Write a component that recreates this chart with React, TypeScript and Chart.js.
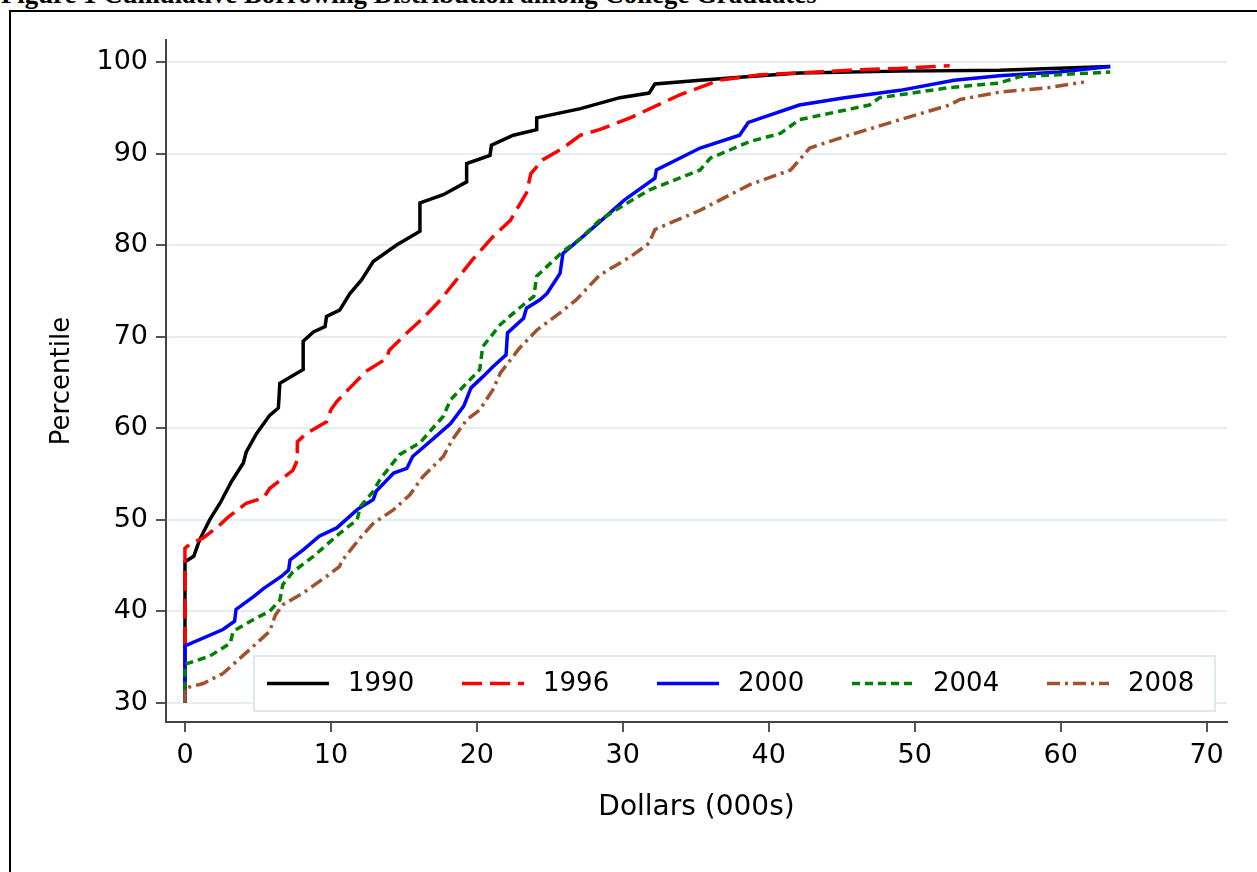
import React, { useEffect, useRef } from "react";
import { Chart, registerables } from "chart.js";

Chart.register(...registerables);

// ---- data (Dollars in 000s, percentile) ----
const x1990 = [0, 0, 0.6, 1.0, 1.7, 2.4, 3.2, 4.0, 4.2, 4.9, 5.8, 6.4, 6.5, 8.1, 8.1, 8.8, 9.6, 9.7, 10.6, 11.3, 12.1, 12.9, 14.5, 16.1, 16.1, 17.7, 19.3, 19.3, 20.9, 21.0, 22.5, 24.1, 24.1, 27.1, 29.8, 31.8, 32.2, 35.3, 38.7, 42.1, 49, 55.8, 63.4];
const y1990 = [30, 45.4, 46.0, 47.8, 50.0, 51.8, 54.2, 56.2, 57.4, 59.4, 61.4, 62.2, 64.9, 66.4, 69.5, 70.5, 71.1, 72.2, 72.9, 74.7, 76.2, 78.2, 80.0, 81.5, 84.6, 85.5, 86.9, 88.9, 89.8, 90.9, 92.0, 92.6, 93.9, 94.9, 96.1, 96.6, 97.6, 98.0, 98.4, 98.8, 99.0, 99.1, 99.5];

const x1996 = [0, 0, 0.4, 1.25, 2.3, 2.9, 4.2, 5.4, 5.8, 7.4, 7.7, 7.7, 8.3, 9.7, 10.0, 10.4, 11.3, 12.4, 13.8, 14.0, 15.2, 16.3, 17.5, 19.7, 21.1, 22.3, 23.4, 23.7, 24.5, 25.9, 27.1, 28.4, 30.5, 33.9, 36.6, 39.4, 42.1, 45.5, 49, 52.4];
const y1996 = [30, 46.9, 47.4, 48.0, 49.3, 50.2, 51.8, 52.4, 53.4, 55.4, 56.5, 58.5, 59.4, 60.7, 62.0, 62.9, 64.4, 66.2, 67.6, 68.5, 70.4, 72.0, 74.0, 78.4, 80.9, 82.7, 85.7, 87.8, 89.3, 90.6, 92.0, 92.6, 93.9, 96.4, 98.0, 98.6, 98.8, 99.1, 99.3, 99.6];

const x2000 = [0, 0, 2.6, 3.4, 3.5, 4.7, 5.4, 6.6, 7.1, 7.2, 8.1, 9.2, 10.4, 11.8, 12.9, 13.1, 14.3, 15.2, 15.6, 17.2, 18.2, 19.1, 19.6, 20.4, 21.1, 22.0, 22.1, 23.2, 23.4, 24.3, 24.8, 25.7, 25.9, 27.1, 28.4, 30.1, 32.2, 32.3, 35.3, 38.0, 38.6, 42.1, 45.2, 49, 52.7, 55.8, 59.9, 63.4];
const y2000 = [30, 36.2, 38.0, 38.9, 40.2, 41.6, 42.5, 43.8, 44.5, 45.6, 46.7, 48.2, 49.1, 51.1, 52.2, 53.1, 55.1, 55.6, 56.9, 59.1, 60.5, 62.4, 64.4, 65.6, 66.7, 68.0, 70.4, 72.0, 73.1, 74.0, 74.7, 76.9, 79.1, 80.7, 82.5, 84.9, 87.3, 88.2, 90.6, 92.0, 93.4, 95.3, 96.1, 96.9, 98.0, 98.5, 98.9, 99.5];

const x2004 = [0, 0, 1.7, 3.1, 3.3, 4.7, 5.8, 6.5, 6.7, 7.4, 8.8, 10.6, 11.8, 12.0, 12.9, 13.4, 14.7, 16.1, 17.7, 18.2, 20.2, 20.4, 21.6, 22.9, 23.9, 24.1, 25.9, 27.1, 28.4, 30.1, 31.8, 35.3, 36.0, 38.7, 40.8, 42.1, 46.9, 47.6, 52.4, 55.8, 57.2, 63.4];
const y2004 = [30, 34.2, 35.1, 36.5, 37.8, 39.1, 40.0, 41.2, 42.9, 44.3, 46.0, 48.5, 50.0, 51.4, 53.1, 54.5, 57.1, 58.4, 61.3, 63.1, 66.4, 68.9, 71.3, 73.1, 74.4, 76.6, 79.3, 80.7, 82.7, 84.4, 86.0, 88.2, 89.5, 91.3, 92.2, 93.7, 95.3, 96.1, 97.2, 97.7, 98.4, 98.9];

const x2008 = [0, 0, 1.25, 2.6, 3.8, 4.9, 5.8, 6.2, 6.7, 8.1, 9.7, 10.6, 10.7, 12.0, 12.9, 14.3, 15.4, 16.3, 17.7, 18.3, 19.3, 20.2, 21.1, 21.6, 22.9, 24.1, 25.7, 26.8, 28.4, 30.5, 31.8, 32.2, 35.3, 38.7, 41.5, 42.1, 42.8, 45.5, 49, 52.4, 53.1, 55.8, 59.2, 61.6];
const y2008 = [30, 31.6, 32.1, 33.2, 34.9, 36.5, 37.8, 39.6, 40.7, 42.0, 43.8, 44.9, 45.4, 48.0, 49.6, 51.1, 52.7, 54.7, 56.9, 58.7, 60.9, 62.0, 64.2, 66.0, 68.7, 70.7, 72.6, 74.0, 76.7, 78.7, 80.2, 81.7, 83.8, 86.6, 88.2, 89.3, 90.6, 92.0, 93.7, 95.3, 95.9, 96.7, 97.2, 97.8];

const seriesLabels = ["1990", "1996", "2000", "2004", "2008"];
const xTicks = [0, 10, 20, 30, 40, 50, 60, 70];
const yTicks = [30, 40, 50, 60, 70, 80, 90, 100];

const TITLE = "Figure 1 Cumulative Borrowing Distribution among College Graduates";
const SANS = '"DejaVu Sans", sans-serif';

const pts = (xs: number[], ys: number[]) => xs.map((x, i) => ({ x, y: ys[i] }));

const boxLegend = {
  id: "boxLegend",
  afterDatasetsDraw(chart: any) {
    const { ctx, chartArea } = chart;
    const left = chartArea.left + 88;
    const right = chartArea.right - 12;
    const top = chartArea.bottom - 66;
    const bottom = chartArea.bottom - 11;
    ctx.save();
    ctx.fillStyle = "#ffffff";
    ctx.fillRect(left, top, right - left, bottom - top);
    ctx.strokeStyle = "#dfe8ec";
    ctx.lineWidth = 2;
    ctx.strokeRect(left, top, right - left, bottom - top);
    const cy = (top + bottom) / 2;
    chart.data.datasets.forEach((ds: any, i: number) => {
      const sx = left + 13 + i * 195;
      ctx.beginPath();
      ctx.setLineDash(ds.borderDash || []);
      ctx.strokeStyle = ds.borderColor;
      ctx.lineWidth = 3.5;
      ctx.moveTo(sx, cy);
      ctx.lineTo(sx + 62, cy);
      ctx.stroke();
      ctx.setLineDash([]);
      ctx.fillStyle = "#000";
      ctx.font = `26px ${SANS}`;
      ctx.textBaseline = "middle";
      ctx.textAlign = "left";
      ctx.fillText(ds.label, sx + 81, cy + 1);
    });
    ctx.restore();
  },
};

export default function App() {
  const ref = useRef<HTMLCanvasElement>(null);

  useEffect(() => {
    if (!ref.current) return;
    const mk = (i: number, xs: number[], ys: number[], color: string, dash: number[]) => ({
      label: seriesLabels[i],
      data: pts(xs, ys),
      borderColor: color,
      backgroundColor: color,
      borderWidth: 3.5,
      borderDash: dash,
      pointRadius: 0,
      tension: 0,
      fill: false,
      order: 5 - i,
    });
    const chart = new Chart(ref.current, {
      type: "line",
      data: {
        datasets: [
          mk(0, x1990, y1990, "#000000", []),
          mk(1, x1996, y1996, "#ff0000", [20, 8]),
          mk(2, x2000, y2000, "#0000ff", []),
          mk(3, x2004, y2004, "#008000", [8, 5]),
          mk(4, x2008, y2008, "#a0522d", [13, 5, 3, 5]),
        ],
      },
      options: {
        animation: false,
        responsive: false,
        devicePixelRatio: 1,
        layout: { padding: { left: 43, right: 30, top: 40, bottom: 43 } },
        plugins: {
          legend: { display: false },
          tooltip: { enabled: false },
        },
        scales: {
          x: {
            type: "linear",
            min: -1.3,
            max: 71.4,
            afterBuildTicks: (s: any) => {
              s.ticks = xTicks.map((v) => ({ value: v }));
            },
            afterFit: (s: any) => {
              s.height = 107;
            },
            grid: { drawOnChartArea: false, tickLength: 10, tickColor: "#555", lineWidth: 2 },
            border: { display: true, color: "#444", width: 2 },
            ticks: { color: "#000", font: { family: SANS, size: 27 }, padding: 8, maxRotation: 0 },
            title: { display: true, text: "Dollars (000s)", color: "#000", font: { family: SANS, size: 28 } },
          },
          y: {
            type: "linear",
            min: 27.9,
            max: 102.4,
            afterBuildTicks: (s: any) => {
              s.ticks = yTicks.map((v) => ({ value: v }));
            },
            afterFit: (s: any) => {
              s.width = 123;
            },
            grid: { color: "#e4edf0", lineWidth: 2, tickLength: 10, tickColor: "#555" },
            border: { display: true, color: "#444", width: 2 },
            ticks: { color: "#000", font: { family: SANS, size: 27 }, padding: 8 },
            title: { display: true, text: "Percentile", color: "#000", font: { family: SANS, size: 26 } },
          },
        },
      },
      plugins: [boxLegend],
    } as any);
    return () => chart.destroy();
  }, []);

  return (
    <div style={{ position: "fixed", left: 0, top: 0, width: 1257, height: 872, overflow: "hidden", background: "#fff" }}>
      <div
        style={{
          position: "absolute",
          left: 1,
          top: -19,
          font: 'bold 26.8px "Liberation Serif", "Times New Roman", serif',
          lineHeight: "27px",
          whiteSpace: "nowrap",
          color: "#000",
        }}
      >
        {TITLE}
      </div>
      <div
        style={{
          position: "absolute",
          left: 9,
          top: 10,
          width: 1400,
          height: 1000,
          borderLeft: "2px solid #000",
          borderTop: "2px solid #000",
        }}
      />
      <canvas ref={ref} width={1257} height={872} style={{ position: "absolute", left: 0, top: 0 }} />
    </div>
  );
}
